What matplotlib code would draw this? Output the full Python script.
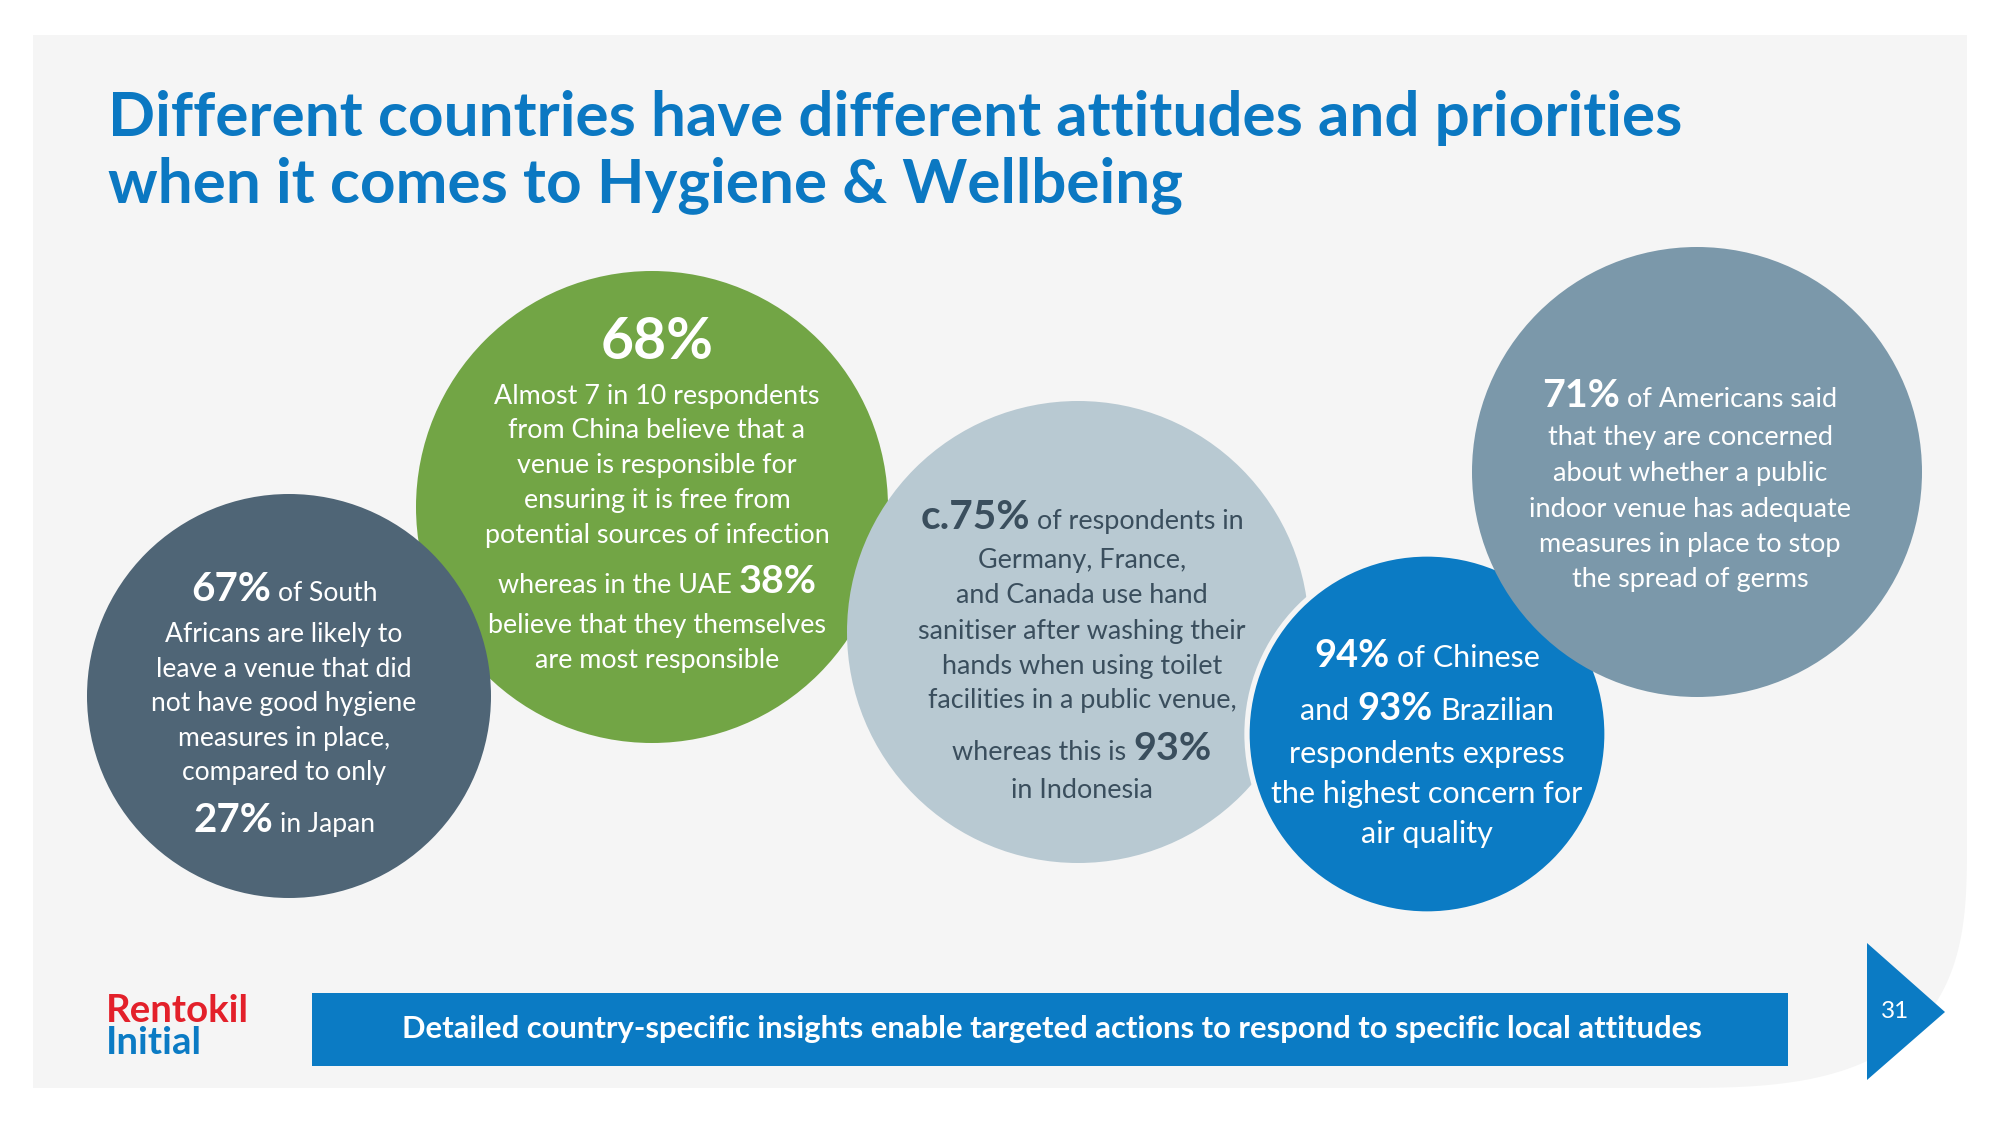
import matplotlib
matplotlib.use("Agg")
import matplotlib.pyplot as plt
from matplotlib.patches import Circle, Rectangle, Polygon
import numpy as np

# ---------------- data ----------------
title_lines = ["Different countries have different attitudes and priorities",
               "when it comes to Hygiene & Wellbeing"]
south_africa_leave_pct = 67
japan_leave_pct = 27
china_venue_resp_pct = 68
uae_self_resp_pct = 38
europe_sanitiser_pct = 75
indonesia_sanitiser_pct = 93
china_air_pct = 94
brazil_air_pct = 93
usa_concern_pct = 71
footer_text = "Detailed country-specific insights enable targeted actions to respond to specific local attitudes"
page_number = "31"
logo_lines = ["Rentokil", "Initial"]

# ---------------- figure ----------------
W, H = 2000, 1125
FONT = "Lato"
fig = plt.figure(figsize=(20, 11.25), dpi=100)
fig.patch.set_facecolor("white")
ax = fig.add_axes([0, 0, 1, 1])
ax.set_xlim(0, W)
ax.set_ylim(H, 0)
ax.axis("off")
renderer = fig.canvas.get_renderer()

PANEL = "#f5f5f5"
SLATE = "#4f6576"
GREEN = "#72a545"
LGREY = "#b8c9d2"
BLUE = "#0b7bc4"
STEEL = "#7b98aa"
TITLE = "#0b78c2"
DARKTXT = "#3a4e5d"


def text_width(s, size, weight):
    t = ax.text(0, 0, s, fontsize=size, fontweight=weight, family=FONT)
    w = t.get_window_extent(renderer).width
    t.remove()
    return w


def fit(s, weight, target):
    return 20.0 * target / text_width(s, 20.0, weight)


# ---------------- background panel ----------------
L, T, R, B = 33, 35, 1967, 1088
rx, ry, n = 297, 248, 3.0
cx0, cy0 = R - rx, B - ry
th = np.linspace(0, np.pi / 2, 80)
cx_arc = cx0 + rx * np.cos(th) ** (2 / n)
cy_arc = cy0 + ry * np.sin(th) ** (2 / n)
pts = [(L, T), (R, T), (R, cy0)] + list(zip(cx_arc, cy_arc)) + [(cx0, B), (L, B)]
ax.add_patch(Polygon(pts, closed=True, facecolor=PANEL, edgecolor="none", zorder=0))

# ---------------- title ----------------
title_size = fit(title_lines[0], "bold", 1576)
for txt, yb in zip(title_lines, [136, 202]):
    ax.text(108, yb, txt, fontsize=title_size, fontweight="bold", family=FONT,
            color=TITLE, ha="left", va="baseline", zorder=5)

# ---------------- circles ----------------
circles = [
    dict(c=(652, 507), r=236, fc=GREEN),
    dict(c=(289, 696), r=202, fc=SLATE),
    dict(c=(1078, 632), r=231, fc=LGREY),
    dict(c=(1427, 734), r=180, fc=BLUE, ec=PANEL, lw=3.8),
    dict(c=(1697, 472), r=225, fc=STEEL),
]
for i, cd in enumerate(circles):
    ax.add_patch(Circle(cd["c"], cd["r"], facecolor=cd["fc"],
                        edgecolor=cd.get("ec", "none"), linewidth=cd.get("lw", 0),
                        zorder=1 + i * 0.1))


def rich_line(cx, yb, segs, color, reg_size):
    gap = text_width("a a", reg_size, "normal") - text_width("aa", reg_size, "normal")
    widths = [text_width(s, sz, wt) for s, wt, sz in segs]
    total = sum(widths) + gap * (len(segs) - 1)
    x = cx - total / 2
    for (s, wt, sz), w in zip(segs, widths):
        ax.text(x, yb, s, fontsize=sz, fontweight=wt, family=FONT, color=color,
                ha="left", va="baseline", zorder=5)
        x += w + gap


def block(cx, baselines, lines, color, reg, bold_sizes):
    for yb, line in zip(baselines, lines):
        segs = []
        for item in line:
            if isinstance(item, tuple):
                s, key = item
                segs.append((s, "bold", bold_sizes[key]))
            else:
                segs.append((item, "normal", reg))
        rich_line(cx, yb, segs, color, reg)


# circle 1 - South Africa / Japan
reg1 = fit("Africans are likely to", "normal", 238)
b1 = fit(f"{south_africa_leave_pct}%", "bold", 80)
block(284, [601, 642, 677, 711, 746, 780, 832],
      [[(f"{south_africa_leave_pct}%", "b"), "of South"],
       ["Africans are likely to"],
       ["leave a venue that did"],
       ["not have good hygiene"],
       ["measures in place,"],
       ["compared to only"],
       [(f"{japan_leave_pct}%", "b"), "in Japan"]],
      "white", reg1, {"b": b1})

# circle 2 - China / UAE
reg2 = fit("potential sources of infection", "normal", 345)
b2big = fit(f"{china_venue_resp_pct}%", "bold", 113)
b2 = fit(f"{uae_self_resp_pct}%", "bold", 78)
block(657, [359, 404, 438, 473, 508, 543, 593, 633, 668],
      [[(f"{china_venue_resp_pct}%", "big")],
       ["Almost 7 in 10 respondents"],
       ["from China believe that a"],
       ["venue is responsible for"],
       ["ensuring it is free from"],
       ["potential sources of infection"],
       ["whereas in the UAE", (f"{uae_self_resp_pct}%", "b")],
       ["believe that they themselves"],
       ["are most responsible"]],
      "white", reg2, {"big": b2big, "b": b2})

# circle 3 - Europe / Indonesia
reg3 = fit("sanitiser after washing their", "normal", 329)
b3big = fit(f"c.{europe_sanitiser_pct}%", "bold", 110)
b3 = fit(f"{indonesia_sanitiser_pct}%", "bold", 78)
block(1082, [529, 568, 603, 639, 674, 708, 760, 798],
      [[(f"c.{europe_sanitiser_pct}%", "big"), "of respondents in"],
       ["Germany, France,"],
       ["and Canada use hand"],
       ["sanitiser after washing their"],
       ["hands when using toilet"],
       ["facilities in a public venue,"],
       ["whereas this is", (f"{indonesia_sanitiser_pct}%", "b")],
       ["in Indonesia"]],
      DARKTXT, reg3, {"big": b3big, "b": b3})

# circle 4 - China / Brazil air quality
reg4 = fit("the highest concern for", "normal", 313)
b4 = fit(f"{china_air_pct}%", "bold", 75)
block(1427, [667, 720, 763, 803, 843],
      [[(f"{china_air_pct}%", "b"), "of Chinese"],
       ["and", (f"{brazil_air_pct}%", "b"), "Brazilian"],
       ["respondents express"],
       ["the highest concern for"],
       ["air quality"]],
      "white", reg4, {"b": b4})

# circle 5 - USA
reg5 = fit("indoor venue has adequate", "normal", 323)
b5 = fit(f"{usa_concern_pct}%", "bold", 78)
block(1690, [407, 445, 481, 517, 552, 587],
      [[(f"{usa_concern_pct}%", "b"), "of Americans said"],
       ["that they are concerned"],
       ["about whether a public"],
       ["indoor venue has adequate"],
       ["measures in place to stop"],
       ["the spread of germs"]],
      "white", reg5, {"b": b5})

# ---------------- footer ----------------
ax.add_patch(Rectangle((312, 993), 1788 - 312, 1066 - 993, facecolor=BLUE,
                       edgecolor="none", zorder=3))
fsize = fit(footer_text, "bold", 1304)
ax.text(1052, 1038, footer_text, fontsize=fsize, fontweight="bold", family=FONT,
        color="white", ha="center", va="baseline", zorder=5)

# logo
lsize = fit(logo_lines[0], "bold", 143)
ax.text(106, 1022, logo_lines[0], fontsize=lsize, fontweight="bold", family=FONT,
        color="#e3202a", ha="left", va="baseline", zorder=5)
ax.text(106, 1054, logo_lines[1], fontsize=lsize, fontweight="bold", family=FONT,
        color=BLUE, ha="left", va="baseline", zorder=5)

# page marker
ax.add_patch(Polygon([(1867, 943), (1867, 1080), (1945, 1012)], closed=True,
                     facecolor=BLUE, edgecolor="none", zorder=3))
psize = fit(page_number, "normal", 28)
ax.text(1895, 1012, page_number, fontsize=psize, family=FONT, color="white",
        ha="center", va="center", zorder=5)

fig.savefig("out.png", dpi=100, facecolor="white")
